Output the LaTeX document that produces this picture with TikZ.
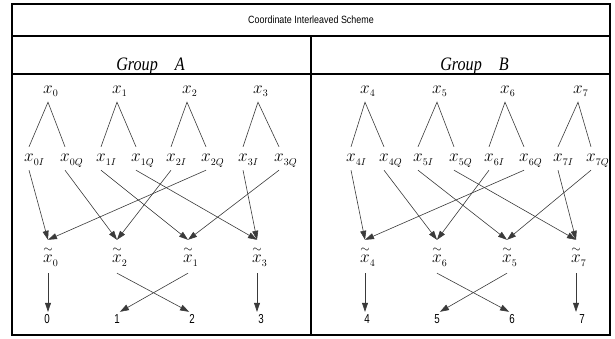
\documentclass[tikz,border=0pt]{standalone}
\usepackage{fontspec}
\usepackage{tikz}
\usetikzlibrary{arrows.meta}
\newfontfamily\headfont{Liberation Sans}[FakeStretch=0.85]
\newfontfamily\numfont{Liberation Sans}[FakeStretch=0.75]
\newfontfamily\grpfont{Liberation Serif}[FakeStretch=0.85]
\definecolor{cLine}{HTML}{3A3A3A}
\newcommand{\subx}[1]{\rlap{\raisebox{-3pt}{\fontsize{10}{10}\selectfont$#1$}}}
\newcommand{\lx}[1]{$x$\subx{#1}}
\newcommand{\lxt}[1]{$\stackrel{\sim}{x}$\subx{#1}}

\begin{document}
\begin{tikzpicture}[
  x=1pt, y=-1pt,
  >={Triangle[length=9pt,width=6pt]},
  frame/.style={line width=2pt, draw=black},
  head/.style={font=\headfont\fontsize{10.5}{12}\selectfont, inner sep=0pt},
  grp/.style={font=\grpfont\itshape\fontsize{19}{20}\selectfont, anchor=base, inner sep=0pt},
  xtop/.style={font=\fontsize{17.28}{18}\selectfont, anchor=base, inner sep=0pt,
               text height=8pt, text depth=8pt},
  xsub/.style={font=\fontsize{17.28}{18}\selectfont, anchor=base, inner sep=0pt,
               text height=15pt, text depth=8pt},
  xtil/.style={font=\fontsize{17.28}{18}\selectfont, anchor=base, inner sep=0pt,
               text height=23pt, text depth=10pt},
  num/.style={font=\numfont\fontsize{13}{14}\selectfont, anchor=base, inner sep=0pt,
              text height=11pt, text depth=1pt},
  tree/.style={line width=0.6pt, draw=cLine},
  flow/.style={->, line width=0.6pt, draw=cLine},
]
\useasboundingbox (0,0) rectangle (615,339);

% ---------- Table frame ----------
\draw[frame] (12,4) rectangle (610,335);
\draw[frame] (12,36) -- (610,36);
\draw[frame] (12,74) -- (610,74);
\draw[frame] (311,36) -- (311,335);

\node[head] (title) at (311,20) {Coordinate Interleaved Scheme};
\node[grp] (grpA) at (150.5,71) {Group\hspace{17pt}A};
\node[grp] (grpB) at (474.5,71) {Group\hspace{17pt}B};

% ---------- Group A: symbols ----------
\node[xtop] (x0) at (48,94)  {\lx{0}};
\node[xtop] (x1) at (117,94) {\lx{1}};
\node[xtop] (x2) at (187,94) {\lx{2}};
\node[xtop] (x3) at (258,94) {\lx{3}};

\node[xsub] (x0I) at (29,162)  {\lx{0I}};
\node[xsub] (x0Q) at (65,162)  {\lx{0Q}};
\node[xsub] (x1I) at (101,162) {\lx{1I}};
\node[xsub] (x1Q) at (136,162) {\lx{1Q}};
\node[xsub] (x2I) at (171,162) {\lx{2I}};
\node[xsub] (x2Q) at (206,162) {\lx{2Q}};
\node[xsub] (x3I) at (243,162) {\lx{3I}};
\node[xsub] (x3Q) at (279,162) {\lx{3Q}};

\node[xtil] (t0) at (48,263)  {\lxt{0}};
\node[xtil] (t2) at (117,263) {\lxt{2}};
\node[xtil] (t1) at (188,263) {\lxt{1}};
\node[xtil] (t3) at (257,263) {\lxt{3}};

\node[num] (n0) at (47,323)  {0};
\node[num] (n1) at (117,323) {1};
\node[num] (n2) at (192,323) {2};
\node[num] (n3) at (261,323) {3};

% ---------- Group B: symbols ----------
\node[xtop] (x4) at (365,94) {\lx{4}};
\node[xtop] (x5) at (437,94) {\lx{5}};
\node[xtop] (x6) at (505,94) {\lx{6}};
\node[xtop] (x7) at (578,94) {\lx{7}};

\node[xsub] (x4I) at (351,162) {\lx{4I}};
\node[xsub] (x4Q) at (384,162) {\lx{4Q}};
\node[xsub] (x5I) at (418,162) {\lx{5I}};
\node[xsub] (x5Q) at (454,162) {\lx{5Q}};
\node[xsub] (x6I) at (489,162) {\lx{6I}};
\node[xsub] (x6Q) at (524,162) {\lx{6Q}};
\node[xsub] (x7I) at (558,162) {\lx{7I}};
\node[xsub] (x7Q) at (591,162) {\lx{7Q}};

\node[xtil] (t4) at (365,263) {\lxt{4}};
\node[xtil] (t6) at (437,263) {\lxt{6}};
\node[xtil] (t5) at (507,263) {\lxt{5}};
\node[xtil] (t7) at (576,263) {\lxt{7}};

\node[num] (n4) at (367,323) {4};
\node[num] (n5) at (437,323) {5};
\node[num] (n6) at (512,323) {6};
\node[num] (n7) at (582,323) {7};

% ---------- Splitting into I / Q ----------
\draw[tree] (x0I.north) -- (x0.south) -- (x0Q.north);
\draw[tree] (x1I.north) -- (x1.south) -- (x1Q.north);
\draw[tree] (x2I.north) -- (x2.south) -- (x2Q.north);
\draw[tree] (x3I.north) -- (x3.south) -- (x3Q.north);
\draw[tree] (x4I.north) -- (x4.south) -- (x4Q.north);
\draw[tree] (x5I.north) -- (x5.south) -- (x5Q.north);
\draw[tree] (x6I.north) -- (x6.south) -- (x6Q.north);
\draw[tree] (x7I.north) -- (x7.south) -- (x7Q.north);

% ---------- Interleaving ----------
\draw[flow] (x0I.south) -- (t0.north);
\draw[flow] (x2Q.south) -- (t0.north);
\draw[flow] (x0Q.south) -- (t2.north);
\draw[flow] (x2I.south) -- (t2.north);
\draw[flow] (x1I.south) -- (t1.north);
\draw[flow] (x3Q.south) -- (t1.north);
\draw[flow] (x1Q.south) -- (t3.north);
\draw[flow] (x3I.south) -- (t3.north);

\draw[flow] (x4I.south) -- (t4.north);
\draw[flow] (x6Q.south) -- (t4.north);
\draw[flow] (x4Q.south) -- (t6.north);
\draw[flow] (x6I.south) -- (t6.north);
\draw[flow] (x5I.south) -- (t5.north);
\draw[flow] (x7Q.south) -- (t5.north);
\draw[flow] (x5Q.south) -- (t7.north);
\draw[flow] (x7I.south) -- (t7.north);

% ---------- Output order ----------
\draw[flow] (t0.south) -- (t0.south |- n0.north);
\draw[flow] (t2.south) -- (n2.north west);
\draw[flow] (t1.south) -- (n1.north east);
\draw[flow] (t3.south) -- (t3.south |- n3.north);

\draw[flow] (t4.south) -- (t4.south |- n4.north);
\draw[flow] (t6.south) -- (n6.north west);
\draw[flow] (t5.south) -- (n5.north east);
\draw[flow] (t7.south) -- (t7.south |- n7.north);

\end{tikzpicture}
\end{document}
